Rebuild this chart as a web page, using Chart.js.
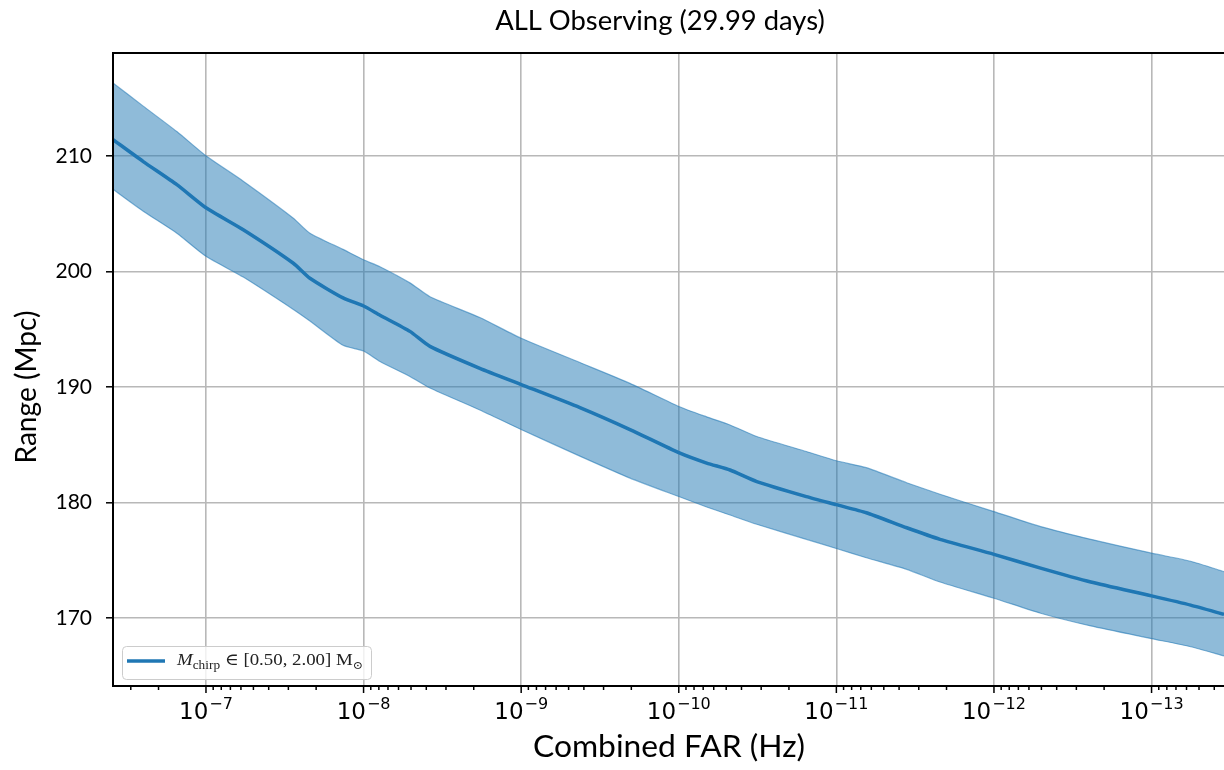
<!DOCTYPE html>
<html><head><meta charset="utf-8">
<script src="https://cdn.jsdelivr.net/npm/chart.js@4.4.1/dist/chart.umd.min.js"></script>
<style>html,body{margin:0;padding:0;background:#fff}canvas{display:block}</style>
</head>
<body>
<canvas id="c" width="1224" height="770"></canvas>
<script>
// ---- data ----
const FAR = [3.89e-7, 2.5e-7, 1.53e-7, 1e-7, 5.8e-8, 2.79e-8, 2.19e-8, 1.35e-8, 1e-8, 7.87e-9,
  5.08e-9, 3.79e-9, 1.83e-9, 1e-9, 4.24e-10, 2.04e-10, 1e-10, 6.65e-11, 4.73e-11, 3.2e-11,
  1.55e-11, 1e-11, 6.45e-12, 3.58e-12, 2.2e-12, 1e-12, 5.06e-13, 2.43e-13, 1e-13, 5.65e-14, 3.47e-14];
const RANGE_MEDIAN = [211.4, 209.5, 207.5, 205.5, 203.6, 200.7, 199.4, 197.7, 197.0, 196.2,
  194.8, 193.5, 191.6, 190.2, 188.2, 186.3, 184.3, 183.4, 182.8, 181.8,
  180.5, 179.8, 179.1, 177.8, 176.8, 175.5, 174.3, 173.1, 171.9, 171.1, 170.3];
const RANGE_UPPER = [216.3, 214.3, 212.1, 210.0, 207.8, 204.6, 203.3, 201.9, 201.0, 200.4,
  199.0, 197.8, 196.0, 194.2, 192.1, 190.3, 188.3, 187.4, 186.7, 185.7,
  184.4, 183.6, 183.0, 181.7, 180.7, 179.2, 177.9, 176.8, 175.6, 174.9, 174.0];
const RANGE_LOWER = [207.1, 205.2, 203.3, 201.3, 199.5, 196.7, 195.7, 193.6, 193.1, 192.2,
  190.9, 189.9, 188.0, 186.3, 184.0, 182.1, 180.5, 179.6, 178.9, 178.1,
  176.8, 176.0, 175.2, 174.2, 173.1, 171.7, 170.4, 169.3, 168.2, 167.5, 166.7];
const X_DECADES = [-7, -8, -9, -10, -11, -12, -13];   // tick labels 10^e
const Y_TICKS = [170, 180, 190, 200, 210];
const X_MIN = 3.47e-14, X_MAX = 3.89e-7;
const Y_MIN = 164.1, Y_MAX = 218.9;
const TITLE = 'ALL Observing (29.99 days)';
const X_TITLE = 'Combined FAR (Hz)';
const Y_TITLE = 'Range (Mpc)';
const SERIES_LABEL = 'M_chirp ∈ [0.50, 2.00] M_⊙';

const SANS = "Lato, 'Open Sans', sans-serif";
const SERIF = "'Liberation Serif', 'DejaVu Serif', serif";
const BLUE = '#1f77b4';

function pts(vals) { return FAR.map((f, i) => ({ x: f, y: vals[i] })); }

function fitFont(ctx, text, family, base, target) {
  ctx.font = base + 'px ' + family;
  const w = ctx.measureText(text).width;
  return Math.round(base * target / w * 10) / 10;
}

const overlay = {
  id: 'overlay',
  afterDraw(chart) {
    const { ctx, chartArea: a, scales: { x, y } } = chart;
    ctx.save();
    // spines
    ctx.strokeStyle = '#000'; ctx.lineWidth = 2;
    ctx.beginPath();
    ctx.moveTo(a.left, a.bottom); ctx.lineTo(a.left, a.top); ctx.lineTo(a.right, a.top);
    ctx.moveTo(a.left - 1, a.bottom); ctx.lineTo(a.right, a.bottom);
    ctx.stroke();
    // x ticks (major + minor)
    ctx.lineWidth = 1.5;
    x.ticks.forEach(t => {
      const px = x.getPixelForValue(t.value);
      const len = t.major ? 7 : 4;
      ctx.beginPath(); ctx.moveTo(px, a.bottom); ctx.lineTo(px, a.bottom + len); ctx.stroke();
    });
    // x tick labels 10^e
    ctx.fillStyle = '#000';
    ctx.textBaseline = 'alphabetic'; ctx.textAlign = 'left';
    X_DECADES.forEach(e => {
      const px = x.getPixelForValue(Math.pow(10, e));
      const sup = '\u2212' + Math.abs(e);
      ctx.font = "23px 'DejaVu Sans'";
      const w1 = ctx.measureText('10').width;
      ctx.font = "16px 'DejaVu Sans'";
      const w2 = ctx.measureText(sup).width;
      const s = px - (w1 + w2 + 1) / 2;
      ctx.font = "23px 'DejaVu Sans'";
      ctx.fillText('10', s, 719);
      ctx.font = "16px 'DejaVu Sans'";
      ctx.fillText(sup, s + w1 + 1, 709);
    });
    // title
    ctx.textAlign = 'center';
    let fs = fitFont(ctx, TITLE, SANS, 23, 330);
    ctx.font = fs + 'px ' + SANS;
    ctx.fillText(TITLE, 660, 30);
    // x title
    fs = fitFont(ctx, X_TITLE, SANS, 25, 272);
    ctx.font = fs + 'px ' + SANS;
    ctx.fillText(X_TITLE, 669, 757);
    // y title
    fs = fitFont(ctx, Y_TITLE, SANS, 25, 153);
    ctx.font = fs + 'px ' + SANS;
    ctx.save();
    ctx.translate(36, 387); ctx.rotate(-Math.PI / 2);
    ctx.fillText(Y_TITLE, 0, 0);
    ctx.restore();
    // legend
    ctx.beginPath();
    ctx.roundRect(122.5, 646.5, 249, 33, 4);
    ctx.fillStyle = 'rgba(255,255,255,0.8)'; ctx.fill();
    ctx.strokeStyle = '#cccccc'; ctx.lineWidth = 1; ctx.stroke();
    ctx.strokeStyle = BLUE; ctx.lineWidth = 3.5;
    ctx.beginPath(); ctx.moveTo(127, 661); ctx.lineTo(165, 661); ctx.stroke();
    const parts = SERIES_LABEL.match(/^M_(\w+) (.*) M_(.)$/);
    const pieces = [
      { t: 'M', f: 'italic 17px ' + SERIF, dy: 0 },
      { t: parts[1], f: '12px ' + SERIF, dy: 3.5 },
      { t: ' ' + parts[2] + ' ', f: '17px ' + SERIF, dy: 0 },
      { t: 'M', f: '17px ' + SERIF, dy: 0 },
      { t: parts[3], f: '11px ' + SERIF, dy: 3.5 }
    ];
    let tw = 0;
    pieces.forEach(p => { ctx.font = p.f; p.w = ctx.measureText(p.t).width; tw += p.w; });
    const k = 186 / tw;
    ctx.fillStyle = '#222'; ctx.textAlign = 'left';
    let cx = 177;
    ctx.save();
    ctx.translate(cx, 665); ctx.scale(k, 1);
    let ox = 0;
    pieces.forEach(p => { ctx.font = p.f; ctx.fillText(p.t, ox, p.dy); ox += p.w; });
    ctx.restore();
    ctx.restore();
  }
};

new Chart(document.getElementById('c'), {
  type: 'line',
  data: {
    datasets: [
      { label: SERIES_LABEL, data: pts(RANGE_MEDIAN), borderColor: BLUE, borderWidth: 3.5,
        pointRadius: 0, fill: false, tension: 0.2, order: 0 },
      { label: 'upper', data: pts(RANGE_UPPER), borderColor: 'rgba(31,119,180,0.55)', borderWidth: 1.2,
        backgroundColor: 'rgba(31,119,180,0.5)', pointRadius: 0, fill: '+1', tension: 0.2, order: 1 },
      { label: 'lower', data: pts(RANGE_LOWER), borderColor: 'rgba(31,119,180,0.55)', borderWidth: 1.2,
        pointRadius: 0, fill: false, tension: 0.2, order: 2 }
    ]
  },
  options: {
    responsive: false, animation: false, devicePixelRatio: 1,
    layout: { padding: { top: 53, right: 0, left: 0, bottom: 0 } },
    plugins: { legend: { display: false }, tooltip: { enabled: false }, title: { display: false } },
    scales: {
      x: {
        type: 'logarithmic', reverse: true, min: X_MIN, max: X_MAX,
        border: { display: false },
        afterBuildTicks(scale) {
          const ticks = [];
          for (let e = -14; e <= -7; e++) {
            for (let m = 1; m <= 9; m++) {
              const v = m * Math.pow(10, e);
              if (v >= X_MIN && v <= X_MAX) ticks.push({ value: v, major: m === 1 });
            }
          }
          scale.ticks = ticks;
        },
        afterFit(scale) { scale.height = 84; },
        ticks: { display: false },
        grid: { drawTicks: false, lineWidth: 1.6,
          color: c => (c.tick && c.tick.major) ? '#b8b8b8' : 'rgba(0,0,0,0)' }
      },
      y: {
        type: 'linear', min: Y_MIN, max: Y_MAX,
        border: { display: false },
        afterBuildTicks(scale) { scale.ticks = Y_TICKS.map(v => ({ value: v })); },
        afterFit(scale) { scale.width = 113; },
        ticks: { color: '#000', padding: 14, font: { family: SANS, size: 21 }, callback: v => String(v) },
        grid: { drawTicks: true, tickLength: 7, tickColor: '#000', tickWidth: 1.5, lineWidth: 1.6, color: '#b8b8b8' }
      }
    }
  },
  plugins: [overlay]
});
</script>
</body></html>
